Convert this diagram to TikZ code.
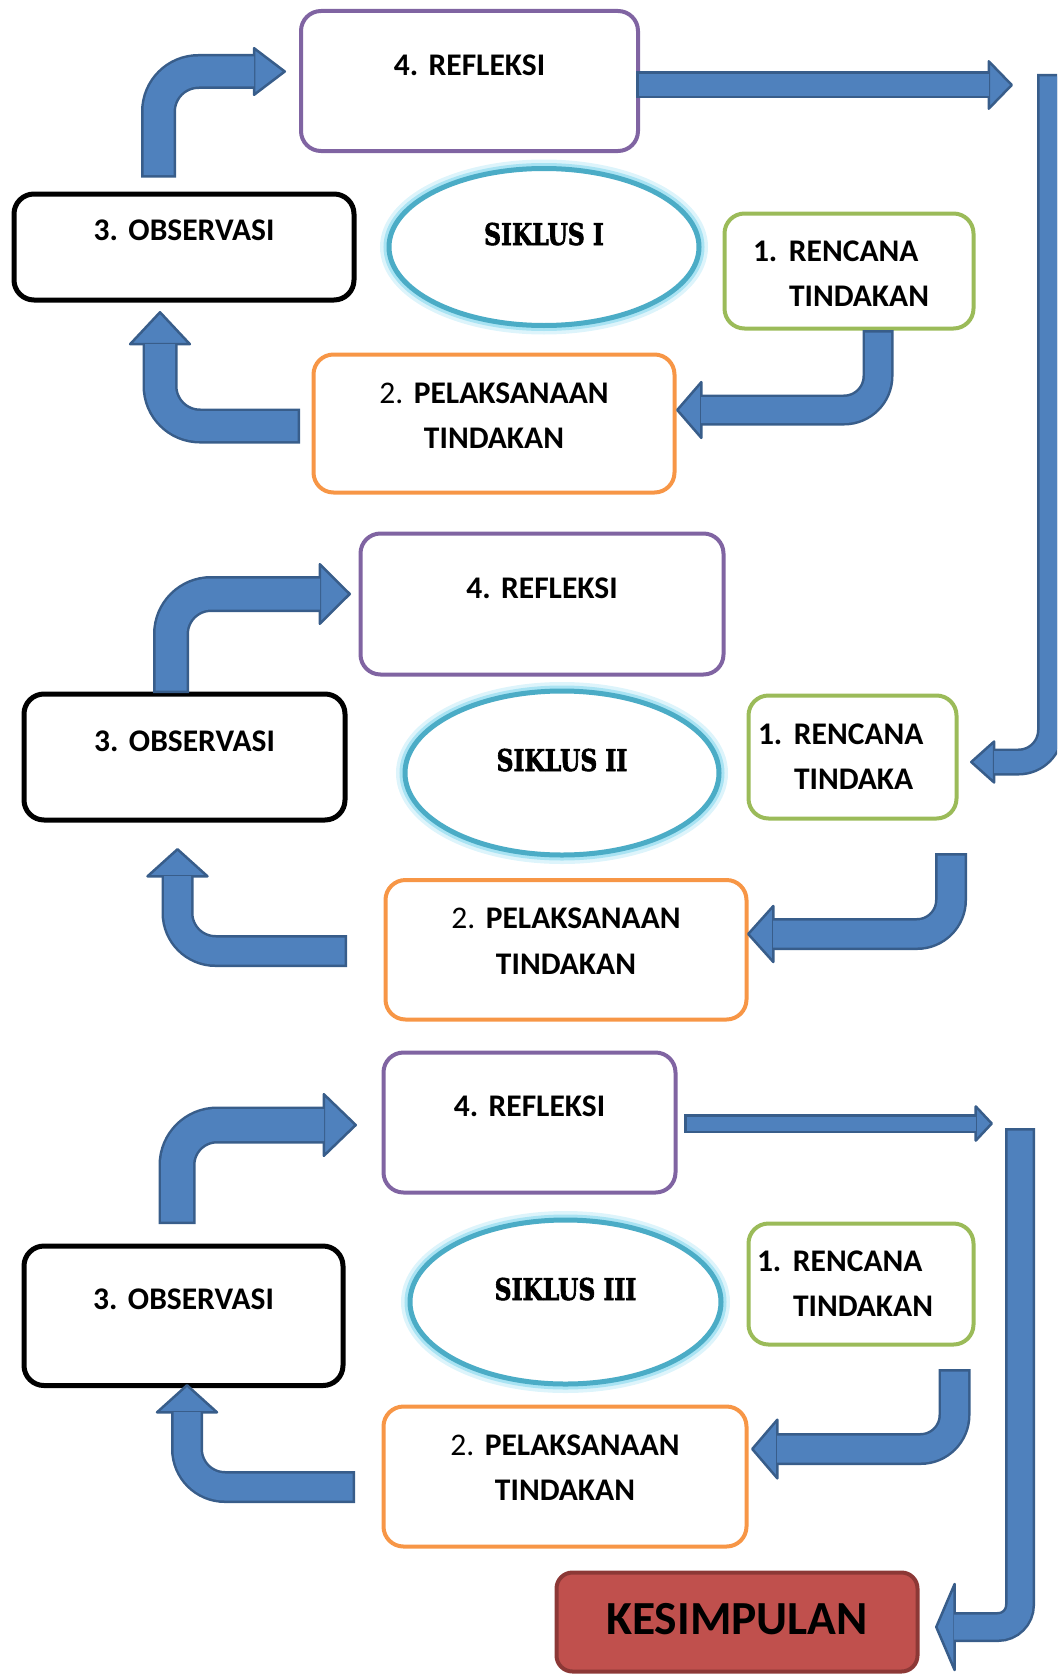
\documentclass[tikz,border=0pt]{standalone}
\usepackage{fontspec}
\setmainfont{Carlito}
\newfontfamily\sikfont[FakeStretch=0.78, FakeBold=2]{DejaVu Serif}
\usetikzlibrary{arrows.meta,shapes.geometric}

\definecolor{ungu}{HTML}{8064A2}
\definecolor{hijau}{HTML}{9BBB59}
\definecolor{oranye}{HTML}{F79646}
\definecolor{tosca}{HTML}{4BACC6}
\definecolor{kilau}{HTML}{DDF4FB}
\definecolor{kilaudua}{HTML}{A9E3F3}
\definecolor{biru}{HTML}{4F81BD}
\definecolor{birutua}{HTML}{385D8A}
\definecolor{merah}{HTML}{C0504D}
\definecolor{merahtua}{HTML}{8C3836}

\begin{document}
\begin{tikzpicture}[x=1pt, y=-1pt,
  kotak/.style={rounded corners=20pt, fill=white, inner sep=0pt, align=center,
    font=\fontsize{31.5}{45.5}\selectfont\bfseries\frenchspacing},
  ukuran/.style n args={3}{text width=#1pt, text height=#2pt, text depth=#3pt},
  refbox/.style={kotak, draw=ungu, line width=4pt},
  obsbox/.style={kotak, draw=black, line width=5pt},
  renbox/.style={kotak, draw=hijau, line width=4pt, align=left},
  pelbox/.style={kotak, draw=oranye, line width=4pt},
  hasil/.style={kotak, rounded corners=16pt, fill=merah, draw=merahtua, line width=4pt,
    font=\fontsize{47.5}{55}\selectfont\bfseries},
  siklus/.style={ellipse, draw=tosca, line width=5pt, fill=white, inner sep=0pt,
    text height=9pt, text depth=13pt, font=\sikfont\fontsize{30}{36}\selectfont\bfseries,
    preaction={draw=kilau, line width=18pt}, preaction={draw=kilaudua, line width=11pt}},
  blok/.style n args={3}{draw=birutua, line width=#1pt, rounded corners=36pt,
    -{Triangle[length=#2pt, width=#3pt, fill=biru, line width=2.5pt 0, round]},
    postaction={draw=biru, line width=#1pt-5pt, -, shorten >=#2pt-2pt, shorten <=2.5pt}}]

  \useasboundingbox (0,0) rectangle (1057,1675);
  \clip (0,0) rectangle (1057,1675);

  % siklus I
  \node[refbox, ukuran={337}{65}{75}] at (469.5,81) (ref1) {4. REFLEKSI};
  \node[obsbox, ukuran={340}{46.5}{59.5}] at (184,247) (obs1) {3. OBSERVASI};
  \node[siklus, minimum width=310pt, minimum height=157pt] at (544,247) (sik1) {SIKLUS I};
  \node[renbox, ukuran={192}{47.5}{67.5}, inner xsep=28.5pt] at (849,271) (ren1)
    {\makebox[36pt][l]{1.}RENCANA\\\hspace*{36pt}TINDAKAN};
  \node[pelbox, ukuran={361}{48.5}{89.5}] at (494,423.5) (pel1)
    {{\mdseries 2.} PELAKSANAAN\\TINDAKAN};

  % siklus II
  \node[refbox, ukuran={363}{64.5}{76.5}] at (542,604) (ref2) {4. REFLEKSI};
  \node[obsbox, ukuran={321}{57}{69}] at (184.5,757) (obs2) {3. OBSERVASI};
  \node[siklus, minimum width=314pt, minimum height=164pt] at (562,773) (sik2) {SIKLUS II};
  \node[renbox, ukuran={189}{48.5}{74.5}, inner xsep=9.5pt] at (852.5,757) (ren2)
    {\makebox[36pt][l]{1.}RENCANA\\\hspace*{36pt}TINDAKA};
  \node[pelbox, ukuran={361}{48.6}{90.9}] at (566,949.75) (pel2)
    {{\mdseries 2.} PELAKSANAAN\\TINDAKAN};

  % siklus III
  \node[refbox, ukuran={292}{63.5}{76.5}] at (529.5,1122.5) (ref3) {4. REFLEKSI};
  \node[obsbox, ukuran={319}{63}{76.5}] at (183.5,1315.75) (obs3) {3. OBSERVASI};
  \node[siklus, minimum width=311pt, minimum height=164pt] at (565.5,1302) (sik3) {SIKLUS III};
  \node[renbox, ukuran={208}{47.5}{73.5}, inner xsep=8.5pt] at (861,1284) (ren3)
    {\makebox[36pt][l]{1.}RENCANA\\\hspace*{36pt}TINDAKAN};
  \node[pelbox, ukuran={363}{48.5}{91.5}] at (565,1476.5) (pel3)
    {{\mdseries 2.} PELAKSANAAN\\TINDAKAN};

  \node[hasil, ukuran={361}{61.5}{37.5}] at (737,1622) (kes) {KESIMPULAN};

  % ujung panah
  \coordinate (o1a) at (158.5,177.5); \coordinate (r1a) at (286,71.5);
  \coordinate (n1a) at (878,330);     \coordinate (p1a) at (676,410);
  \coordinate (p1b) at (300,426);     \coordinate (o1b) at (160,311);
  \coordinate (r1b) at (636,85);      \coordinate (r1c) at (1013,85);
  \coordinate (t1) at (1050.5,74);    \coordinate (n2b) at (970,762);

  \coordinate (o2a) at (171,693);     \coordinate (r2a) at (351,594);
  \coordinate (n2a) at (951,853);     \coordinate (p2a) at (747,934);
  \coordinate (p2b) at (347,951);     \coordinate (o2b) at (177.5,848);

  \coordinate (o3a) at (177,1224);    \coordinate (r3a) at (357,1125);
  \coordinate (n3a) at (954.5,1369);  \coordinate (p3a) at (751,1449);
  \coordinate (p3b) at (355,1487);    \coordinate (o3b) at (187,1384);
  \coordinate (r3b) at (684,1123.5);  \coordinate (r3c) at (993,1123.5);
  \coordinate (t3) at (1020,1128);    \coordinate (k3) at (935,1627);

  \draw[blok={35}{34}{51}, rounded corners=40pt] (o1a) |- (r1a);
  \draw[blok={31}{27}{62}, rounded corners=34pt] (n1a) |- (p1a);
  \draw[blok={35}{35}{65}, rounded corners=40pt] (p1b) -| (o1b);
  \draw[blok={27}{26}{53}] (r1b) -- (r1c);
  \draw[blok={27}{26}{46}, rounded corners=32pt] (t1) |- (n2b);

  \draw[blok={36}{33}{65}, rounded corners=40pt] (o2a) |- (r2a);
  \draw[blok={32}{28}{62}, rounded corners=34pt] (n2a) |- (p2a);
  \draw[blok={32}{30}{66}, rounded corners=38pt] (p2b) -| (o2b);

  \draw[blok={37}{35}{67}, rounded corners=40pt] (o3a) |- (r3a);
  \draw[blok={32}{28}{65}, rounded corners=34pt] (n3a) |- (p3a);
  \draw[blok={32}{30}{66}, rounded corners=38pt] (p3b) -| (o3b);
  \draw[blok={19}{19}{40}] (r3b) -- (r3c);
  \draw[blok={30}{21}{98}, rounded corners=22pt] (t3) |- (k3);
\end{tikzpicture}
\end{document}
